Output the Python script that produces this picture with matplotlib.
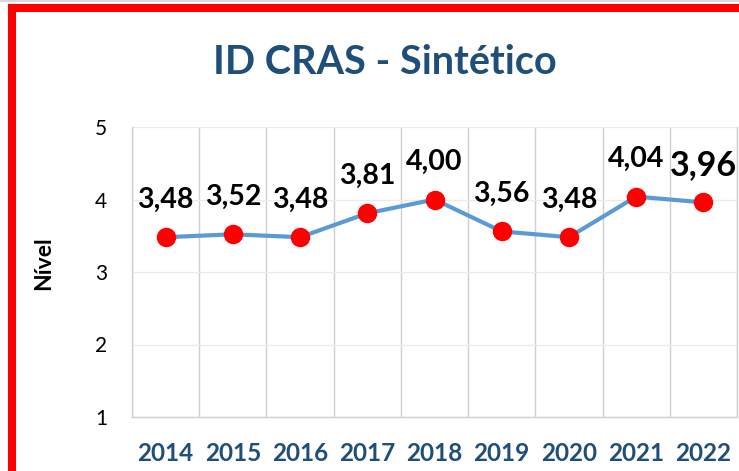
import matplotlib.pyplot as plt
from matplotlib.lines import Line2D

# data
years = ['2014', '2015', '2016', '2017', '2018', '2019', '2020', '2021', '2022']
values = [3.48, 3.52, 3.48, 3.81, 4.00, 3.56, 3.48, 4.04, 3.96]
value_labels = ['3,48', '3,52', '3,48', '3,81', '4,00', '3,56', '3,48', '4,04', '3,96']
yticks = [1, 2, 3, 4, 5]

plt.rcParams['font.family'] = ['Lato', 'DejaVu Sans']
dark_blue = '#1F4E79'

fig = plt.figure(figsize=(7.39, 4.71), dpi=100)
ax = fig.add_axes([132 / 739, 54 / 471, 605 / 739, 290 / 471])

x = list(range(len(years)))
ax.plot(x, values, color='#5B9BD5', linewidth=3, marker='o',
        markersize=13, markerfacecolor='#FF0000', markeredgecolor='#FF0000', zorder=3)

for i in x:
    big = (i == len(years) - 1)
    ax.annotate(value_labels[i], (x[i], values[i]), xytext=(0, 27),
                textcoords='offset points', ha='center', va='center',
                fontsize=24.5 if big else 20.5, fontweight='bold', color='black',
                annotation_clip=False)

ax.set_xlim(-0.5, len(years) - 0.5)
ax.set_ylim(1, 5)
ax.set_yticks(yticks)
ax.set_yticklabels([str(t) for t in yticks], fontsize=15, color='black')
ax.set_xticks(x)
ax.set_xticklabels(years, fontsize=17.5, fontweight='bold', color=dark_blue)
ax.set_xticks([i + 0.5 for i in range(-1, len(years))], minor=True)
ax.tick_params(axis='y', length=0, pad=18)
ax.tick_params(axis='x', which='both', length=0, pad=18)

ax.grid(axis='y', color='#EBEBEB', linewidth=1)
ax.grid(axis='x', which='minor', color='#CFCFCF', linewidth=1)
ax.set_axisbelow(True)
for s in ax.spines.values():
    s.set_color('#D0D0D0')
    s.set_linewidth(1)
ax.spines['top'].set_visible(False)

ax.set_ylabel('Nível', fontsize=16.5, fontweight='bold', color='black')
ax.yaxis.set_label_coords(-78 / 605, 0.53)

fig.text(385 / 739, 1 - 62 / 471, 'ID CRAS - Sintético', ha='center', va='center',
         fontsize=28.5, fontweight='bold', color=dark_blue)

# red frame around the chart (only top and left visible)
fig.add_artist(Line2D([0, 1], [1 - 1 / 471, 1 - 1 / 471], transform=fig.transFigure,
                      color='#D9D9D9', linewidth=1.5))
fig.add_artist(Line2D([12 / 739, 1], [1 - 8 / 471, 1 - 8 / 471], transform=fig.transFigure,
                      color='#FF0000', linewidth=5.8, solid_capstyle='projecting'))
fig.add_artist(Line2D([12 / 739, 12 / 739], [0, 1 - 8 / 471], transform=fig.transFigure,
                      color='#FF0000', linewidth=5.8, solid_capstyle='projecting'))

fig.savefig('out.png', dpi=100)
